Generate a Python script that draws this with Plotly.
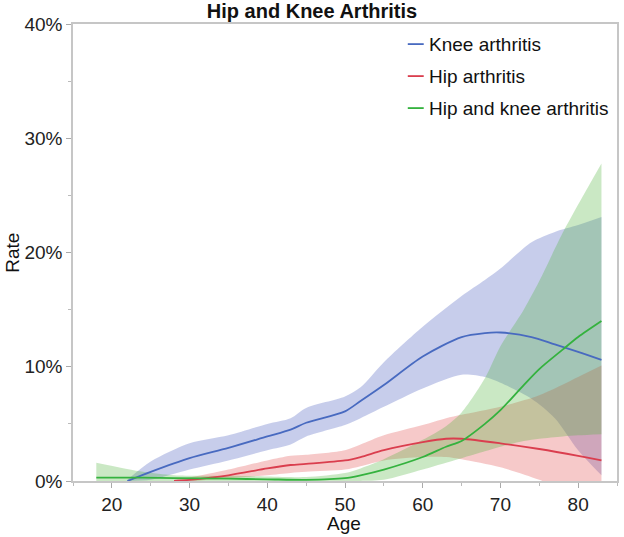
import plotly.graph_objects as go

# ---- data (rates in percent) ----
ages_knee = [22, 25, 30, 35, 40, 43, 45, 50, 52, 55, 60, 65, 68, 70, 74, 77, 80, 83]
knee_rate = [0.0, 0.8, 2.0, 2.9, 3.9, 4.5, 5.1, 6.1, 7.0, 8.4, 10.9, 12.6, 12.95, 13.0, 12.6, 11.95, 11.3, 10.6]
knee_lo   = [0.0, 0.1, 1.0, 1.8, 2.7, 3.2, 3.9, 4.9, 5.5, 6.5, 8.1, 9.3, 9.1, 8.6, 7.2, 5.5, 2.7, 0.5]
knee_hi   = [0.1, 1.7, 3.3, 4.0, 5.0, 5.5, 6.4, 7.4, 8.2, 10.4, 13.5, 16.2, 17.6, 18.6, 20.9, 21.8, 22.4, 23.1]

ages_hip = [28, 30, 35, 40, 43, 45, 50, 52, 55, 60, 63, 65, 70, 75, 80, 83]
hip_rate = [0.0, 0.1, 0.5, 1.1, 1.4, 1.5, 1.8, 2.1, 2.7, 3.4, 3.7, 3.7, 3.3, 2.8, 2.2, 1.8]
hip_lo   = [0.0, 0.0, 0.25, 0.5, 0.7, 0.8, 1.0, 1.3, 1.8, 2.1, 2.1, 1.9, 1.2, 0.1, -1.3, -2.2]
hip_hi   = [0.1, 0.3, 1.0, 1.8, 2.2, 2.3, 2.7, 3.2, 4.0, 4.9, 5.5, 5.8, 6.5, 7.5, 9.1, 10.1]

ages_both = [18, 24, 28, 35, 40, 45, 50, 52, 55, 60, 63, 65, 68, 70, 73, 75, 78, 80, 83]
both_rate = [0.3, 0.3, 0.25, 0.2, 0.15, 0.1, 0.25, 0.5, 1.0, 2.1, 3.0, 3.5, 5.0, 6.2, 8.4, 9.8, 11.5, 12.6, 14.0]
both_lo   = [0.0, 0.0, 0.0, 0.0, 0.0, 0.0, 0.0, 0.0, 0.1, 1.0, 1.6, 2.0, 2.6, 3.0, 3.5, 3.7, 3.9, 4.0, 4.1]
both_hi   = [1.6, 0.8, 0.5, 0.45, 0.4, 0.35, 0.7, 1.1, 1.9, 3.6, 4.8, 6.0, 9.0, 11.8, 15.0, 17.5, 21.7, 24.2, 27.8]

series_names = ["Knee arthritis", "Hip arthritis", "Hip and knee arthritis"]
y_ticks = [0, 10, 20, 30, 40]
y_tick_labels = ["0%", "10%", "20%", "30%", "40%"]
x_ticks = [20, 30, 40, 50, 60, 70, 80]

line_colors = ["rgb(72,106,192)", "rgb(218,62,78)", "rgb(52,178,62)"]
band_colors = ["rgba(70,90,190,0.30)", "rgba(225,75,75,0.30)", "rgba(80,180,60,0.30)"]

series = [
    (ages_knee, knee_rate, knee_lo, knee_hi),
    (ages_hip, hip_rate, hip_lo, hip_hi),
    (ages_both, both_rate, both_lo, both_hi),
]

fig = go.Figure()

# bands
for i, (ax, r, lo, hi) in enumerate(series):
    fig.add_trace(go.Scatter(x=ax, y=lo, mode="lines", line=dict(width=0, shape="spline", smoothing=0.8),
                             showlegend=False, hoverinfo="skip"))
    fig.add_trace(go.Scatter(x=ax, y=hi, mode="lines", line=dict(width=0, shape="spline", smoothing=0.8),
                             fill="tonexty", fillcolor=band_colors[i], showlegend=False, hoverinfo="skip"))

# lines
for i, (ax, r, lo, hi) in enumerate(series):
    fig.add_trace(go.Scatter(x=ax, y=r, mode="lines", name=series_names[i],
                             line=dict(color=line_colors[i], width=1.8, shape="spline", smoothing=0.8),
                             showlegend=False))

FONT = "Liberation Sans, Arial, Helvetica, sans-serif"

# custom legend
leg_y = [0.956, 0.886, 0.816]
for i, name in enumerate(series_names):
    fig.add_shape(type="line", xref="paper", yref="paper", x0=0.6154, x1=0.6447,
                  y0=leg_y[i], y1=leg_y[i], line=dict(color=line_colors[i], width=1.8))
    fig.add_annotation(xref="paper", yref="paper", x=0.650, y=leg_y[i], text=name,
                       showarrow=False, xanchor="left", yanchor="middle",
                       font=dict(family=FONT, size=19, color="#111"))

# axis titles
fig.add_annotation(xref="paper", yref="paper", x=0.498, y=-0.094, text="Age", showarrow=False,
                   xanchor="center", yanchor="middle", font=dict(family=FONT, size=19, color="#111"))
fig.add_annotation(xref="paper", yref="paper", x=-0.1117, y=0.5, text="Rate", showarrow=False,
                   textangle=-90, xanchor="center", yanchor="middle",
                   font=dict(family=FONT, size=19, color="#111"))

fig.update_layout(
    width=624, height=537,
    margin=dict(l=73, r=5, t=24, b=56),
    paper_bgcolor="white", plot_bgcolor="white",
    title=dict(text="<b>Hip and Knee Arthritis</b>", x=0.5, xanchor="center",
               y=1 - 11 / 537, yanchor="middle", font=dict(family=FONT, size=20, color="#111")),
    font=dict(family=FONT, size=19, color="#222"),
    showlegend=False,
)

fig.update_xaxes(range=[15, 85], tickvals=x_ticks, ticks="outside", ticklen=5, tickcolor="#aaa",
                 showgrid=False, zeroline=False, showline=True, linecolor="#c6c6c6", linewidth=1.5,
                 mirror=True, tickfont=dict(family=FONT, size=19, color="#222"),
                 minor=dict(dtick=5, tick0=15, ticks="outside", ticklen=3, tickcolor="#bbb"))
fig.update_yaxes(range=[0, 40], tickvals=y_ticks, ticktext=y_tick_labels, ticks="outside", ticklen=5,
                 tickcolor="#aaa", showgrid=False, zeroline=False, showline=True, linecolor="#c6c6c6",
                 linewidth=1.5, mirror=True, tickfont=dict(family=FONT, size=19, color="#222"),
                 minor=dict(dtick=5, ticks="outside", ticklen=3, tickcolor="#bbb"))

fig.write_html("out.html", config={"displayModeBar": False},
               post_script="document.body.style.margin='0';document.body.style.overflow='hidden';")
